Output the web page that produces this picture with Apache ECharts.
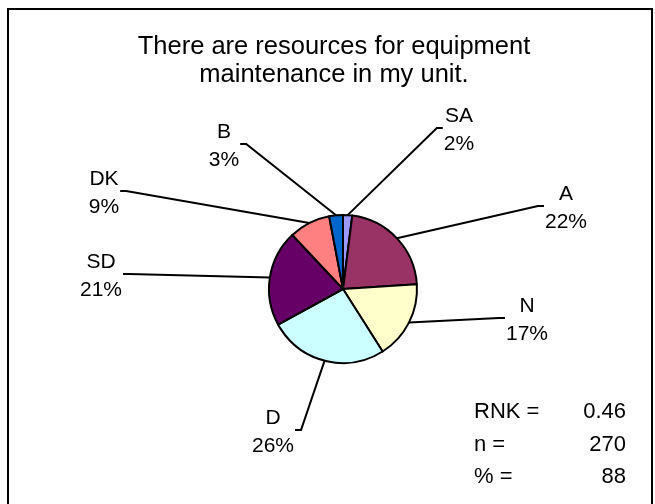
<!DOCTYPE html>
<html><head><meta charset="utf-8">
<script src="https://cdn.jsdelivr.net/npm/echarts@6/dist/echarts.min.js"></script>
<style>html,body{margin:0;padding:0;background:#fff}#c{width:655px;height:504px}</style>
</head><body><div id="c"></div>
<script>
// ---- data ----
const categories = ['SA', 'A', 'N', 'D', 'SD', 'DK', 'B'];
const values = [2, 22, 17, 26, 21, 9, 3];
const statLabels = ['RNK =', 'n =', '% ='];
const statValues = ['0.46', '270', '88'];
const titleText = 'There are resources for equipment\nmaintenance in my unit.';

// ---- styles / layout ----
const sliceColors = ['#9999FF', '#993366', '#FFFFCC', '#CCFFFF', '#660066', '#FF8080', '#0066CC'];
const FONT = '"Liberation Sans", Arial, Helvetica, sans-serif';
const pieCenter = [343, 289];
const pieRadius = 74;
// centre of each label block
const labelPos = [[459, 130], [566, 208], [527, 320], [273, 432], [101, 276], [104, 193], [224, 146]];
const statRowsY = [412, 445, 477];

const chart = echarts.init(document.getElementById('c'), null, {renderer: 'canvas'});

const total = values.reduce((a, b) => a + b, 0);
function midPoint(i) {
  let before = 0;
  for (let k = 0; k < i; k++) before += values[k];
  const frac = (before + values[i] / 2) / total;
  const ang = frac * 2 * Math.PI;
  return [pieCenter[0] + pieRadius * Math.sin(ang), pieCenter[1] - pieRadius * Math.cos(ang)];
}

const graphics = [
  {type: 'rect', shape: {x: 8, y: 9, width: 644, height: 500},
   style: {fill: 'none', stroke: '#000', lineWidth: 2}, silent: true}
];
statLabels.forEach((s, i) => {
  graphics.push({type: 'text', x: 474, y: statRowsY[i],
    style: {text: s, fill: '#000', font: '22px ' + FONT, textAlign: 'left', textVerticalAlign: 'middle'}});
  graphics.push({type: 'text', x: 626, y: statRowsY[i],
    style: {text: statValues[i], fill: '#000', font: '22px ' + FONT, textAlign: 'right', textVerticalAlign: 'middle'}});
});

chart.setOption({
  animation: false,
  backgroundColor: '#fff',
  title: {
    text: titleText,
    left: 334, top: 33, textAlign: 'center', padding: 0,
    textStyle: {fontFamily: FONT, fontSize: 25.5, lineHeight: 28, fontWeight: 'normal', color: '#000'}
  },
  graphic: graphics,
  series: [{
    type: 'pie',
    center: pieCenter,
    radius: pieRadius,
    startAngle: 90,
    clockwise: true,
    avoidLabelOverlap: false,
    data: categories.map((c, i) => ({name: c, value: values[i], itemStyle: {color: sliceColors[i]}})),
    itemStyle: {borderColor: '#000', borderWidth: 2},
    emphasis: {disabled: true},
    label: {
      show: true,
      position: 'outside',
      formatter: p => p.name + '\n' + Math.round(p.percent) + '%',
      fontFamily: FONT, fontSize: 21, lineHeight: 28, color: '#000'
    },
    labelLine: {show: true, length: 20, length2: 10, smooth: false, lineStyle: {color: '#000', width: 2}},
    labelLayout: function (p) {
      const i = p.dataIndex;
      const lx = labelPos[i][0], ly = labelPos[i][1];
      const w = p.labelRect.width;
      const right = lx > pieCenter[0];
      const edge = right ? lx - w / 2 : lx + w / 2;
      const tickEnd = right ? edge - 1 : edge + 1;
      const bend = right ? tickEnd - 6 : tickEnd + 6;
      const ey = ly - 2;
      const start = (p.labelLinePoints && p.labelLinePoints[0]) ? p.labelLinePoints[0] : midPoint(i);
      return {
        x: lx, y: ly, align: 'center', verticalAlign: 'middle',
        labelLinePoints: [start, [bend, ey], [tickEnd, ey]]
      };
    }
  }]
});
</script>
</body></html>
